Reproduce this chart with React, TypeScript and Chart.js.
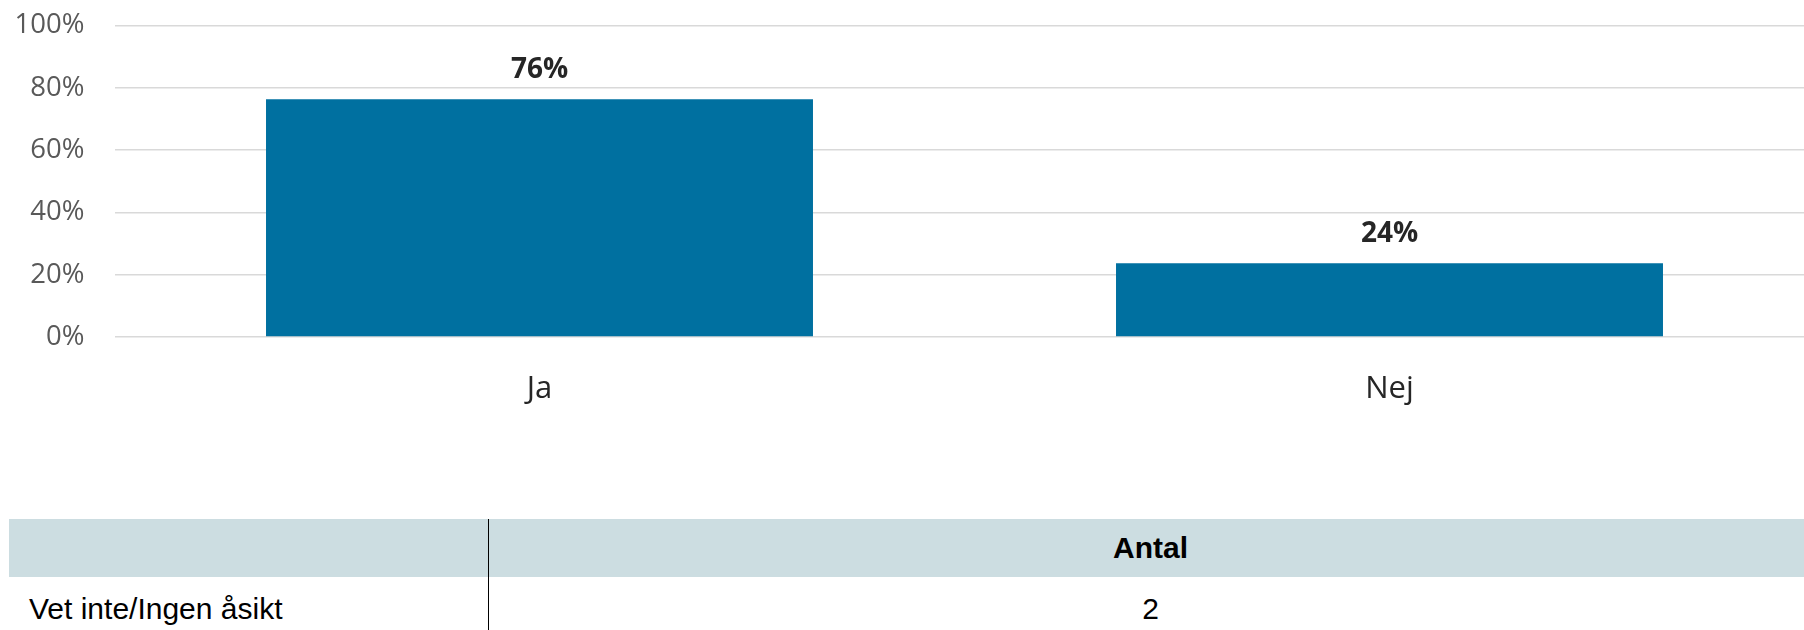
import React, { useEffect, useRef } from "react";
import { Chart, registerables } from "chart.js";

Chart.register(...registerables);

const categories = ["Ja", "Nej"];
const shares = [76.3, 23.7];
const yTickValues = [0, 20, 40, 60, 80, 100];
const tableHeader = ["", "Antal"];
const tableRowLabels = ["Vet inte/Ingen åsikt"];
const tableRowCounts = [2];

const BAR_COLOR = "#0070A0";
const GRID_COLOR = "#D9D9D9";

const valueLabelPlugin = {
  id: "valueLabels",
  afterDatasetsDraw(chart: any) {
    const ctx = chart.ctx;
    const meta = chart.getDatasetMeta(0);
    ctx.save();
    ctx.font = "bold 28px 'Open Sans'";
    ctx.fillStyle = "#262626";
    ctx.textAlign = "center";
    ctx.textBaseline = "alphabetic";
    meta.data.forEach((bar: any, i: number) => {
      ctx.fillText(Math.round(shares[i]) + "%", bar.x, bar.y - 21);
    });
    ctx.restore();
  },
};

export default function App() {
  const canvasRef = useRef<HTMLCanvasElement | null>(null);

  useEffect(() => {
    if (!canvasRef.current) return;
    const chart = new Chart(canvasRef.current, {
      type: "bar",
      data: {
        labels: categories,
        datasets: [
          {
            data: shares,
            backgroundColor: BAR_COLOR,
            borderWidth: 0,
            barPercentage: 0.6435,
            categoryPercentage: 1,
          },
        ],
      },
      options: {
        responsive: false,
        animation: false,
        devicePixelRatio: 1,
        layout: { padding: { top: 3, right: 15.5, bottom: 0, left: 0 } },
        plugins: {
          legend: { display: false },
          tooltip: { enabled: false },
        },
        scales: {
          x: {
            grid: { display: false, drawTicks: false },
            border: { display: false },
            ticks: {
              color: "#262626",
              font: { family: "'Open Sans'", size: 31 },
              padding: 34,
            },
            afterFit(scale: any) {
              scale.height = 83;
            },
          },
          y: {
            min: 0,
            max: 100,
            grid: { color: GRID_COLOR, lineWidth: 1.5, drawTicks: false },
            border: { display: false },
            ticks: {
              color: "#595959",
              font: { family: "'Open Sans'", size: 27.5 },
              padding: 30,
              callback: (v: any) => v + "%",
            },
            afterBuildTicks(scale: any) {
              scale.ticks = yTickValues.map((v) => ({ value: v }));
            },
            afterFit(scale: any) {
              scale.width = 114.5;
            },
          },
        },
      },
      plugins: [valueLabelPlugin],
    });
    return () => chart.destroy();
  }, []);

  const cellText: React.CSSProperties = {
    fontFamily: "'Liberation Sans', Arial, sans-serif",
    fontSize: 30,
    color: "#000",
    lineHeight: "58px",
    height: 58,
    boxSizing: "border-box",
    whiteSpace: "nowrap",
  };

  const bodyText: React.CSSProperties = { ...cellText, lineHeight: "64px", height: 64 };

  return (
    <div
      style={{
        position: "fixed",
        left: 0,
        top: 0,
        width: 1804,
        height: 630,
        overflow: "hidden",
        background: "#fff",
      }}
    >
      <canvas
        ref={canvasRef}
        width={1830}
        height={441}
        style={{ position: "absolute", left: 0, top: -21, width: 1830, height: 441 }}
      />
      <div style={{ position: "absolute", left: 9, top: 519, width: 1803 }}>
        <div style={{ display: "flex", background: "#CCDDE1" }}>
          <div style={{ ...cellText, width: 480, borderRight: "1px solid #000", paddingLeft: 20 }}>
            {tableHeader[0]}
          </div>
          <div style={{ ...cellText, flex: 1, textAlign: "center", fontWeight: "bold" }}>
            {tableHeader[1]}
          </div>
        </div>
        {tableRowLabels.map((label, i) => (
          <div key={label} style={{ display: "flex" }}>
            <div style={{ ...bodyText, width: 480, borderRight: "1px solid #000", paddingLeft: 20 }}>
              {label}
            </div>
            <div style={{ ...bodyText, flex: 1, textAlign: "center" }}>{tableRowCounts[i]}</div>
          </div>
        ))}
      </div>
    </div>
  );
}
